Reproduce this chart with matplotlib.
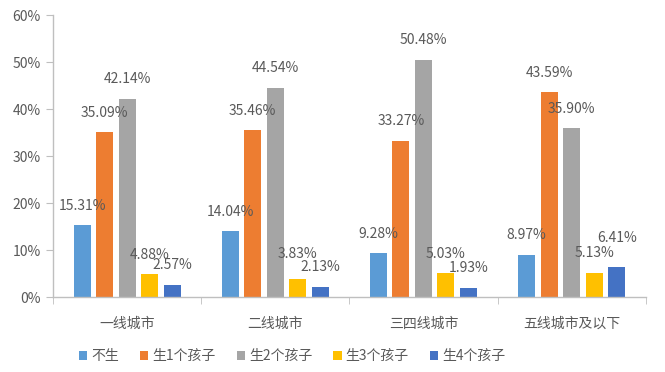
import numpy as np
import matplotlib
matplotlib.use("Agg")
import matplotlib.pyplot as plt

plt.rcParams['font.family'] = ['Noto Sans CJK SC', 'DejaVu Sans']

# 城市等级
cities = ['一线城市', '二线城市', '三四线城市', '五线城市及以下']
# 生育意愿各选项占比（%）
series_names = ['不生', '生1个孩子', '生2个孩子', '生3个孩子', '生4个孩子']
none_kids = [15.31, 14.04, 9.28, 8.97]
one_kid = [35.09, 35.46, 33.27, 43.59]
two_kids = [42.14, 44.54, 50.48, 35.90]
three_kids = [4.88, 3.83, 5.03, 5.13]
four_kids = [2.57, 2.13, 1.93, 6.41]
colors = ['#5B9BD5', '#ED7D31', '#A5A5A5', '#FFC000', '#4472C4']

all_series = [none_kids, one_kid, two_kids, three_kids, four_kids]
txt_col = '#595959'
ax_col = '#BFBFBF'

fig = plt.figure(figsize=(6.65, 3.72), dpi=100)
ax = fig.add_axes([0.0797, 0.2016, 0.8913, 0.758])

x = np.arange(len(cities))
step = 0.152
width = 0.115
# 个别标签被挤上去一点，和原图一样
extra_dy = {(3, 1): 4, (4, 3): 7}
for i, vals in enumerate(all_series):
    pos = x + (i - 2) * step
    bars = ax.bar(pos, vals, width=width, color=colors[i], label=series_names[i], zorder=2)
    for j, (b, v) in enumerate(zip(bars, vals)):
        dy = 9 + extra_dy.get((i, j), 0)
        ax.annotate('%.2f%%' % v, (b.get_x() + b.get_width() / 2, v),
                    xytext=(0, dy), textcoords='offset points',
                    ha='center', va='bottom', fontsize=10, color=txt_col)

ax.set_xlim(-0.5, len(cities) - 0.5)
ax.set_ylim(0, 60)
ax.set_yticks(np.arange(0, 61, 10))
ax.set_yticklabels(['%d%%' % t for t in range(0, 61, 10)])

ax.set_xticks(x)
ax.set_xticklabels(cities)
ax.set_xticks(np.arange(-0.5, len(cities), 1), minor=True)
ax.tick_params(axis='x', which='major', length=0, pad=14, labelsize=10, labelcolor=txt_col)
ax.tick_params(axis='x', which='minor', length=5, color=ax_col, direction='out')
ax.tick_params(axis='y', length=5, color=ax_col, labelsize=10, labelcolor=txt_col, pad=4)

for s in ['top', 'right']:
    ax.spines[s].set_visible(False)
for s in ['left', 'bottom']:
    ax.spines[s].set_color(ax_col)
    ax.spines[s].set_linewidth(1)

leg = fig.legend(loc='center left', bbox_to_anchor=(0.10, 0.042), ncol=5, frameon=False,
                 fontsize=10, handlelength=0.6, handleheight=0.6, handletextpad=0.3,
                 columnspacing=1.5)
for t in leg.get_texts():
    t.set_color(txt_col)

fig.savefig('out.png', dpi=100)
